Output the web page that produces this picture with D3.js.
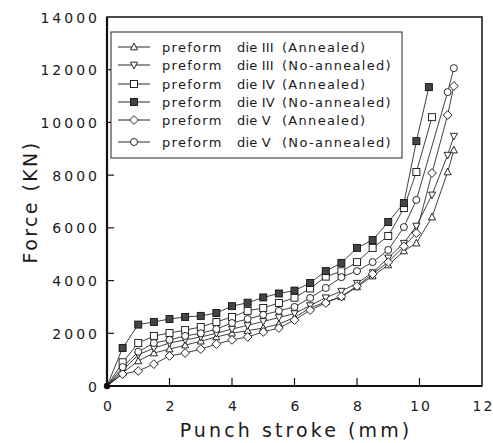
<!DOCTYPE html>
<html><head><meta charset="utf-8">
<script src="https://cdn.jsdelivr.net/npm/d3@7"></script>
<style>body{margin:0;background:#fff}svg{display:block}text{font-family:"DejaVu Sans",sans-serif;fill:#1a1a1a}</style>
</head><body><svg id="c" width="493" height="443"></svg>
<script>
// ---- data ----
const xTicks = [0,2,4,6,8,10,12];
const yTicks = [0,2000,4000,6000,8000,10000,12000,14000];
const seriesNames = ["preform|die III|(Annealed)","preform|die III|(No-annealed)","preform|die IV|(Annealed)","preform|die IV|(No-annealed)","preform|die V|(Annealed)","preform|die V|(No-annealed)"];
const xBase = [0,0.5,1,1.5,2,2.5,3,3.5,4,4.5,5,5.5,6,6.5,7,7.5,8,8.5,9];
const xIIIa = xBase.concat([9.5,9.9,10.4,10.9,11.1]);
const yIIIa = [0,500,950,1250,1400,1550,1700,1860,2000,2100,2200,2350,2600,2960,3190,3380,3760,4170,4590,5120,5420,6410,8120,8950];
const xIIIn = xBase.concat([9.5,9.9,10.4,10.9,11.1]);
const yIIIn = [0,600,1180,1440,1630,1750,1860,2000,2160,2300,2450,2600,2750,3050,3350,3600,3900,4300,4860,5420,6070,7250,8760,9480];
const xIVa = xBase.concat([9.5,9.9,10.4]);
const yIVa = [0,900,1630,1900,2010,2120,2240,2430,2620,2850,2960,3150,3350,3700,4150,4350,4700,5240,5690,6750,8120,10200];
const xIVn = xBase.concat([9.5,9.9,10.3]);
const yIVn = [0,1440,2330,2430,2540,2620,2660,2770,3030,3160,3360,3510,3620,3910,4360,4670,5240,5540,6220,6940,9290,11340];
const xVa = xBase.concat([9.5,9.9,10.4,10.9,11.1]);
const yVa = [0,455,570,830,1140,1250,1400,1590,1750,1860,2050,2200,2500,2880,3150,3400,3790,4250,4700,5300,5800,8080,10280,11380];
const xVn = xBase.concat([9.5,9.9,10.9,11.1]);
const yVn = [0,720,1300,1630,1750,1900,2000,2160,2390,2540,2700,2850,3000,3340,3720,4130,4360,4700,5160,6030,7060,11150,12060];

const series = [
  {x:xIIIa,y:yIIIa,m:"triUp"},
  {x:xIIIn,y:yIIIn,m:"triDown"},
  {x:xIVa,y:yIVa,m:"square"},
  {x:xIVn,y:yIVn,m:"squareFilled"},
  {x:xVa,y:yVa,m:"diamond"},
  {x:xVn,y:yVn,m:"circle"}
];

const svg = d3.select("#c");
const x = d3.scaleLinear().domain([0,12]).range([107,482]);
const y = d3.scaleLinear().domain([0,14000]).range([386,17]);

function marker(g, type, cx, cy){
  const s = 3.5;
  let el;
  if(type==="circle"){
    el = g.append("circle").attr("cx",cx).attr("cy",cy).attr("r",s).attr("fill","#fff");
  } else if(type==="square" || type==="squareFilled"){
    el = g.append("rect").attr("x",cx-s).attr("y",cy-s).attr("width",2*s).attr("height",2*s)
      .attr("fill", type==="squareFilled" ? "#444" : "#fff");
  } else if(type==="diamond"){
    const d = s*1.25;
    el = g.append("path").attr("d",`M${cx},${cy-d}L${cx+d},${cy}L${cx},${cy+d}L${cx-d},${cy}Z`).attr("fill","#fff");
  } else if(type==="triUp"){
    el = g.append("path").attr("d",`M${cx},${cy-s*1.1}L${cx+s},${cy+s*0.8}L${cx-s},${cy+s*0.8}Z`).attr("fill","#fff");
  } else {
    el = g.append("path").attr("d",`M${cx},${cy+s*1.1}L${cx+s},${cy-s*0.8}L${cx-s},${cy-s*0.8}Z`).attr("fill","#fff");
  }
  el.attr("stroke","#111").attr("stroke-width",0.9);
}

// frame
svg.append("rect").attr("x",x(0)).attr("y",y(14000)).attr("width",x(12)-x(0)).attr("height",y(0)-y(14000))
  .attr("fill","none").attr("stroke","#111").attr("stroke-width",1.5);
svg.append("line").attr("x1",x(0)).attr("x2",x(0)).attr("y1",y(0)).attr("y2",y(14000)).attr("stroke","#111").attr("stroke-width",2.2);
svg.append("line").attr("x1",x(0)).attr("x2",x(12)).attr("y1",y(0)).attr("y2",y(0)).attr("stroke","#111").attr("stroke-width",2.2);

// axes
const xAxis = d3.axisBottom(x).tickValues(xTicks).tickSize(0).tickPadding(0).tickFormat(d3.format("d"));
const gx = svg.append("g").attr("transform",`translate(0,${y(0)})`).call(xAxis);
gx.select(".domain").remove();
gx.selectAll("text").attr("dy",null).attr("y",25).style("font-size","14px").style("letter-spacing","2px").attr("dx","1");
const yAxis = d3.axisLeft(y).tickValues(yTicks).tickSize(0).tickPadding(0).tickFormat(d3.format("d"));
const gy = svg.append("g").attr("transform",`translate(${x(0)},0)`).call(yAxis);
gy.select(".domain").remove();
gy.selectAll("text").attr("x",-7).attr("dy","0.36em").style("font-size","14px").style("letter-spacing","3px");

// inward ticks
svg.append("g").selectAll("line").data(xTicks.filter(d=>d>0&&d<12)).join("line")
  .attr("x1",d=>x(d)).attr("x2",d=>x(d)).attr("y1",y(0)).attr("y2",y(0)-8).attr("stroke","#111").attr("stroke-width",1.2);
svg.append("g").selectAll("line").data(yTicks.filter(d=>d>0&&d<14000)).join("line")
  .attr("x1",x(0)).attr("x2",x(0)+7).attr("y1",d=>y(d)).attr("y2",d=>y(d)).attr("stroke","#111").attr("stroke-width",1.2);

// titles
svg.append("text").attr("x",296).attr("y",437).attr("text-anchor","middle")
  .style("font-size","19px").style("letter-spacing","3.1px").text("Punch stroke (mm)");
svg.append("text").attr("transform","translate(37,202) rotate(-90)").attr("text-anchor","middle")
  .style("font-size","19px").style("letter-spacing","2.4px").text("Force (KN)");

// lines + markers
const line = d3.line().x(d=>x(d[0])).y(d=>y(d[1]));
const gl = svg.append("g");
series.forEach(s=>{
  const pts = s.x.map((v,i)=>[v,s.y[i]]);
  gl.append("path").attr("d",line(pts)).attr("fill","none").attr("stroke","#111").attr("stroke-width",0.8);
});
series.forEach(s=>{
  const g = svg.append("g");
  s.x.forEach((v,i)=>{ if(i>0) marker(g,s.m,x(v),y(s.y[i])); });
});
svg.append("circle").attr("cx",x(0)).attr("cy",y(0)).attr("r",3.2).attr("fill","#111");

// legend
const lg = svg.append("g");
lg.append("rect").attr("x",111).attr("y",32).attr("width",291).attr("height",126)
  .attr("fill","#fff").attr("stroke","#222").attr("stroke-width",1);
const rowY = [47,65,84,102,120,142];
series.forEach((s,i)=>{
  const yy = rowY[i];
  lg.append("line").attr("x1",118).attr("x2",150).attr("y1",yy).attr("y2",yy).attr("stroke","#111").attr("stroke-width",0.9);
  marker(lg,s.m,134,yy);
  const parts = seriesNames[i].split("|");
  const t = lg.append("text").attr("y",yy).attr("dy","0.36em").style("font-size","13px").style("letter-spacing","1.3px");
  t.append("tspan").attr("x",162).text(parts[0]);
  t.append("tspan").attr("x",237).style("letter-spacing","0.2px").text(parts[1]);
  t.append("tspan").attr("x",282).text(parts[2]);
});
</script></body></html>
